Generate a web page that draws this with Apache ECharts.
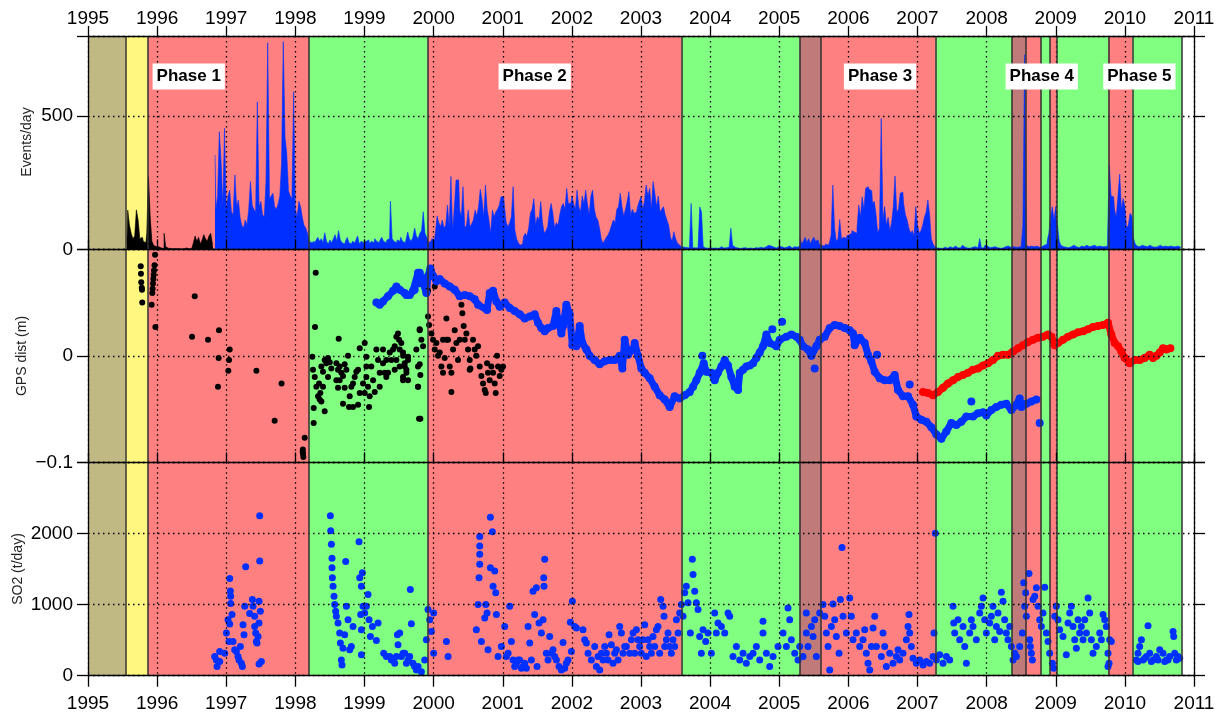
<!DOCTYPE html>
<html><head><meta charset="utf-8">
<script src="https://cdn.jsdelivr.net/npm/echarts@6.0.0/dist/echarts.min.js"></script>
<style>html,body{margin:0;padding:0;background:#fff}#c{width:1224px;height:715px}</style>
</head><body><div id="c"></div>
<script>
// ---------- band (phase) definitions ----------
const bandEdges = [1995.0, 1995.545, 1995.868, 1998.197, 1999.914, 2003.589, 2005.296, 2005.604, 2007.263, 2008.367, 2008.570, 2008.787, 2008.917, 2009.018, 2009.756, 2010.109, 2010.826];
const bandKinds = ['olive','yellow','red','green','red','green','brown','red','green','brown','red','green','red','green','red','green'];
const phaseNames = ['Phase 1','Phase 2','Phase 3','Phase 4','Phase 5'];
const phaseYears = [1996.457, 2001.462, 2006.458, 2008.797, 2010.21];
const phaseLevel = [648, 648, 648, 648, 648];

// ---------- events/day: 40 bins per year ----------
const blueStart = 1996.82;
const evYears = [1995,1996,1997,1998,1999,2000,2001,2002,2003,2004,2005,2006,2007,2008,2009,2010];
const ev1995 = [null,null,null,null,null,null,null,null,null,null,null,null,null,null,null,null,null,null,null,null,null,null,20,147,90,60,40,50,148,110,40,45,30,25,60,272,120,30,15,10];
const ev1996 = [10,8,5,3,60,10,4,3,2,2,3,2,2,2,3,2,5,2,2,3,10,25,50,30,45,20,35,55,40,30,50,60,20,354,150,200,441,330,160,454];
const ev1997 = [150,200,222,140,130,279,160,185,120,90,80,110,90,150,254,165,150,140,553,160,180,130,120,254,775,190,200,210,160,150,170,200,322,779,420,360,220,200,190,591];
const ev1998 = [150,120,180,160,120,90,80,60,30,25,30,20,35,45,30,40,25,62,30,20,35,25,40,55,30,70,35,25,20,30,45,25,20,30,25,35,50,20,30,25];
const ev1999 = [30,25,35,20,30,25,40,30,25,35,45,30,25,35,40,181,40,30,25,35,30,45,30,25,35,65,40,30,45,80,50,40,60,70,141,60,45,25,30,40];
const ev2000 = [35,60,125,100,85,110,80,90,166,85,273,70,160,260,260,150,120,235,80,90,147,85,95,110,147,125,160,225,185,122,241,150,110,60,147,122,140,150,165,197];
const ev2001 = [197,160,100,85,100,122,235,72,40,25,15,20,47,60,50,80,135,150,190,90,122,110,179,100,60,70,85,140,172,135,80,100,90,130,160,172,150,228,170,175];
const ev2002 = [200,170,150,222,160,140,200,170,222,170,130,200,222,150,120,110,80,40,22,35,45,55,70,91,110,100,150,160,210,160,125,150,180,216,130,150,135,140,160,179];
const ev2003 = [197,150,180,241,200,228,150,254,210,160,200,140,150,160,130,110,90,47,30,66,40,25,17,10,8,6,7,5,6,172,5,6,5,4,159,140,10,5,4,6];
const ev2004 = [5,4,8,5,3,6,10,5,4,6,8,5,79,15,8,5,4,3,5,4,6,3,4,5,3,4,6,5,4,8,5,6,10,15,20,12,8,6,5,10];
const ev2005 = [8,10,6,5,8,12,6,5,10,15,8,12,40,20,30,45,25,40,20,35,45,30,35,20,15,12,15,20,15,25,52,241,80,30,40,112,40,45,40,50];
const ev2006 = [55,60,70,65,60,80,166,122,197,150,229,235,225,220,172,180,130,60,80,491,110,160,90,120,70,100,160,275,140,150,210,215,170,130,110,80,60,70,50,160];
const ev2007 = [90,60,70,90,120,140,185,130,40,20,10,5,4,6,3,8,5,4,10,6,5,12,8,5,6,10,15,8,5,6,4,8,5,10,6,12,40,5,6,15];
const ev2008 = [12,6,5,8,10,5,6,4,8,5,10,6,12,8,15,10,8,6,8,10,6,91,730,15,10,12,8,10,12,10,8,10,12,15,20,30,60,120,160,110];
const ev2009 = [160,90,30,15,10,8,12,6,10,8,15,10,8,6,12,8,10,15,8,10,12,8,15,10,8,12,10,8,10,12,50,316,200,197,150,120,200,282,150,190];
const ev2010 = [160,80,90,135,125,40,20,12,10,15,8,12,10,8,15,10,12,8,10,12,15,10,8,12,10,8,12,10,8,10,12,8,6];
const evArrays = [ev1995,ev1996,ev1997,ev1998,ev1999,ev2000,ev2001,ev2002,ev2003,ev2004,ev2005,ev2006,ev2007,ev2008,ev2009,ev2010];

// ---------- GPS distance (m) ----------
const gpsBlack = [
[1995.763,0.084],[1995.766,0.077],[1995.770,0.069],[1995.778,0.064],[1995.781,0.062],[1995.785,0.050],
[1995.970,0.095],[1995.962,0.085],[1995.955,0.080],[1995.950,0.076],[1995.945,0.072],[1995.940,0.068],[1995.935,0.063],[1995.930,0.059],[1995.920,0.048],[1995.975,0.027],
[1996.544,0.056],[1996.505,0.018],[1996.736,0.015],[1996.895,0.024],[1996.890,-0.002],[1996.880,-0.029],[1997.050,0.006],[1997.040,-0.004],[1997.030,-0.014],[1997.436,-0.014],[1997.800,-0.026],[1997.700,-0.061],[1998.135,-0.077],[1998.105,-0.090],[1998.110,-0.092],[1998.115,-0.095],[1998.108,-0.088],
[1998.246,-0.001],[1998.255,-0.013],[1998.280,-0.020],[1998.304,-0.029],[1998.328,-0.038],[1998.352,-0.041],[1998.342,-0.026],[1998.361,-0.035],[1998.265,-0.049],[1998.424,-0.004],[1998.448,-0.007],[1998.497,-0.006],[1998.400,-0.029],[1998.376,-0.043],[1998.424,-0.052],[1998.593,-0.007],[1998.617,-0.013],[1998.641,-0.010],[1998.665,-0.016],[1998.689,-0.019],[1998.593,-0.023],[1998.617,-0.030],[1998.641,-0.023],[1998.762,0.000],[1998.738,-0.013],[1998.689,-0.045],[1998.786,-0.038],[1998.810,-0.029],[1998.834,-0.026],[1998.858,-0.020],[1998.882,-0.015],[1998.907,-0.013],[1998.776,-0.048],[1998.834,-0.048],[1998.907,-0.046],[1998.931,-0.035],[1998.931,0.007],[1999.003,0.012],[1999.027,-0.001],[1999.027,-0.010],[1999.027,-0.020],[1999.051,-0.029],[1999.075,-0.038],[1999.066,-0.048],[1999.003,-0.035],[1998.979,-0.026],[1999.099,-0.010],[1999.124,-0.023],[1999.172,0.006],[1999.196,-0.004],[1999.220,-0.016],[1999.220,-0.029],[1999.268,0.006],[1999.268,-0.007],[1999.292,-0.016],[1999.148,-0.034],[1999.316,-0.004],[1999.316,-0.020],[1999.365,0.003],[1999.389,-0.004],[1999.413,0.006],[1999.437,0.009],[1999.461,0.018],[1999.485,0.021],[1999.500,0.015],[1999.509,0.006],[1999.461,-0.004],[1999.437,-0.013],[1999.509,-0.010],[1999.341,-0.016],[1999.557,0.003],[1999.581,-0.007],[1999.606,-0.013],[1999.630,-0.001],[1999.630,-0.023],[1999.557,-0.020],[1999.750,0.006],[1999.774,-0.010],[1999.774,-0.029],[1999.789,-0.059],[1999.798,0.025],
[1998.294,0.078],[1998.284,0.027],[1998.627,0.016],[1998.265,-0.063],[1998.376,-0.010],[1998.400,-0.015],[1998.472,-0.002],[1998.472,-0.020],[1998.520,-0.012],[1998.713,-0.030],[1998.713,-0.008],
[1999.533,0.012],[1999.558,0.000],[1999.582,-0.010],[1999.606,-0.016],[1999.558,-0.023],[1999.630,-0.004],[1999.799,0.024],[1999.823,0.015],[1999.847,0.009],[1999.799,-0.008],[1999.808,-0.018],[1999.775,-0.029],[1999.808,-0.059],[1999.919,0.037],[1999.934,0.029],[1999.919,0.061],[2000.016,0.065],[1999.967,0.021],[1999.992,0.015],[2000.016,0.006],[2000.040,0.012],[2000.064,0.000],[2000.088,0.003],[2000.112,-0.010],[2000.136,-0.016],[2000.160,-0.002],[2000.185,0.035],[2000.209,0.015],[2000.233,-0.010],[2000.257,-0.016],[2000.257,-0.034],[2000.281,0.006],[2000.305,0.024],[2000.329,0.012],[2000.353,-0.004],[2000.377,0.015],[2000.402,0.048],[2000.416,0.040],[2000.435,0.028],[2000.450,0.015],[2000.474,0.021],[2000.498,0.006],[2000.522,-0.004],[2000.532,-0.012],[2000.570,0.015],[2000.594,0.006],[2000.618,0.000],[2000.643,0.009],[2000.667,-0.010],[2000.691,-0.019],[2000.715,-0.026],[2000.739,-0.032],[2000.754,-0.035],[2000.773,-0.007],[2000.787,-0.016],[2000.811,-0.023],[2000.835,-0.010],[2000.860,-0.016],[2000.884,-0.026],[2000.898,-0.035],[2000.917,0.000],[2000.932,-0.010],[2000.956,-0.019],[2000.980,-0.013],[2001.004,-0.010],[2000.522,-0.013],[2000.185,0.015],[2000.136,0.015]
];
// continuous blue track
const gpsBlue = [
[1999.172,0.050],[1999.220,0.048],[1999.268,0.051],[1999.340,0.056],[1999.413,0.061],[1999.461,0.065],[1999.509,0.062],[1999.581,0.059],[1999.606,0.057],[1999.654,0.057],[1999.702,0.061],[1999.726,0.062],[1999.774,0.078],[1999.775,0.068],[1999.799,0.078],[1999.847,0.068],[1999.895,0.059],[1999.919,0.075],[1999.953,0.082],[1999.992,0.075],[2000.040,0.070],[2000.088,0.072],[2000.160,0.068],[2000.233,0.065],[2000.305,0.062],[2000.377,0.056],[2000.450,0.057],[2000.522,0.056],[2000.594,0.053],[2000.643,0.048],[2000.773,0.043],[2000.811,0.059],[2000.860,0.061],[2000.908,0.051],[2000.956,0.046],[2001.028,0.050],[2001.101,0.045],[2001.173,0.042],[2001.245,0.039],[2001.318,0.035],[2001.390,0.037],[2001.462,0.039],[2001.510,0.031],[2001.559,0.026],[2001.607,0.023],[2001.655,0.026],[2001.727,0.028],[2001.776,0.042],[2001.800,0.034],[2001.848,0.021],[2001.872,0.028],[2001.920,0.048],[2001.968,0.039],[2002.007,0.010],[2002.065,0.009],[2002.113,0.028],[2002.152,0.012],[2002.210,0.006],[2002.258,0.000],[2002.330,-0.004],[2002.403,-0.008],[2002.475,-0.005],[2002.547,-0.004],[2002.620,-0.004],[2002.692,0.000],[2002.731,-0.012],[2002.764,0.015],[2002.813,0.001],[2002.885,0.006],[2002.909,0.012],[2002.957,0.000],[2003.005,-0.012],[2003.053,-0.016],[2003.126,-0.021],[2003.198,-0.029],[2003.270,-0.037],[2003.343,-0.041],[2003.415,-0.048],[2003.487,-0.038],[2003.560,-0.040],[2003.632,-0.037],[2003.705,-0.034],[2003.753,-0.029],[2003.801,-0.023],[2003.849,-0.016],[2003.907,-0.007],[2003.946,-0.015],[2004.018,-0.016],[2004.066,-0.023],[2004.114,-0.016],[2004.163,-0.010],[2004.211,-0.004],[2004.259,-0.009],[2004.307,-0.020],[2004.356,-0.029],[2004.404,-0.032],[2004.428,-0.016],[2004.476,-0.013],[2004.524,-0.010],[2004.573,-0.009],[2004.621,-0.007],[2004.669,-0.002],[2004.717,0.003],[2004.765,0.009],[2004.814,0.020],[2004.862,0.012],[2004.958,0.009],[2005.007,0.015],[2005.103,0.018],[2005.176,0.020],[2005.248,0.018],
[2005.296,0.015],[2005.344,0.009],[2005.416,0.006],[2005.465,0.000],[2005.537,0.009],[2005.585,0.015],[2005.657,0.018],[2005.730,0.026],[2005.802,0.029],[2005.874,0.028],[2005.947,0.026],[2006.019,0.024],[2006.067,0.021],[2006.091,0.010],[2006.164,0.017],[2006.236,0.012],[2006.284,0.001],[2006.332,-0.005],[2006.381,-0.015],[2006.453,-0.021],[2006.525,-0.023],[2006.598,-0.023],[2006.670,-0.018],[2006.718,-0.032],[2006.790,-0.038],[2006.863,-0.038],[2006.935,-0.046],[2006.983,-0.057],[2007.056,-0.060],[2007.128,-0.062],[2007.200,-0.067],[2007.273,-0.074],[2007.345,-0.078],[2007.417,-0.071],[2007.490,-0.063],[2007.562,-0.065],[2007.634,-0.062],[2007.707,-0.057],[2007.803,-0.057],[2007.875,-0.054],[2007.948,-0.053],[2007.996,-0.056],[2008.068,-0.051],[2008.141,-0.048],[2008.213,-0.046],[2008.285,-0.045],[2008.358,-0.051],[2008.430,-0.046],[2008.478,-0.040],[2008.503,-0.048],[2008.575,-0.045],[2008.647,-0.043],[2008.720,-0.041]
];
// isolated blue GPS points off the track
const gpsBlueOut = [[2003.888,0.000],[2004.900,0.025],[2005.041,0.032],[2005.513,-0.012],[2006.415,0.001],[2006.887,-0.027],[2007.779,-0.043],[2008.768,-0.063]];
const gpsRed = [
[2007.080,-0.034],[2007.152,-0.035],[2007.225,-0.037],[2007.297,-0.034],[2007.369,-0.030],[2007.441,-0.026],[2007.514,-0.023],[2007.586,-0.020],[2007.658,-0.018],[2007.731,-0.016],[2007.803,-0.013],[2007.875,-0.012],[2007.948,-0.009],[2008.020,-0.007],[2008.092,-0.004],[2008.165,0.000],[2008.237,0.001],[2008.310,0.001],[2008.382,0.004],[2008.454,0.007],[2008.527,0.010],[2008.599,0.013],[2008.671,0.015],[2008.744,0.017],[2008.816,0.018],[2008.888,0.020],[2008.937,0.018],[2008.985,0.010],[2009.033,0.012],[2009.105,0.015],[2009.178,0.018],[2009.250,0.020],[2009.322,0.022],[2009.395,0.023],[2009.467,0.025],[2009.539,0.027],[2009.611,0.028],[2009.684,0.029],[2009.756,0.031],[2009.804,0.020],[2009.853,0.012],[2009.901,0.009],[2009.949,0.004],[2009.997,-0.002],[2010.070,-0.007],[2010.142,-0.004],[2010.215,-0.004],[2010.287,-0.002],[2010.359,0.001],[2010.407,-0.002],[2010.456,0.000],[2010.504,0.003],[2010.552,0.007],[2010.600,0.006],[2010.658,0.007]
];

// ---------- SO2 (t/day) ----------
const so2 = [
[1996.833,269],[1996.857,222],[1996.867,128],[1996.905,340],[1996.905,198],[1996.978,316],[1997.002,599],[1997.026,788],[1997.040,481],[1997.050,1368],[1997.059,1189],[1997.064,1118],[1997.064,1014],[1997.083,859],[1997.050,727],[1997.098,481],[1997.122,364],[1997.146,340],[1997.170,269],[1997.185,222],[1997.204,411],[1997.219,175],[1997.233,128],[1997.243,717],[1997.257,576],[1997.267,976],[1997.281,1533],[1997.339,873],[1997.378,1071],[1997.387,976],[1997.411,835],[1997.411,693],[1997.426,599],[1997.436,481],[1997.445,458],[1997.460,552],[1997.474,741],[1997.474,1047],[1997.484,2249],[1997.484,1613],[1997.493,906],[1997.474,165],[1997.508,198],
[1998.506,2249],[1998.511,2037],[1998.521,1849],[1998.530,1651],[1998.530,1519],[1998.535,1377],[1998.545,1259],[1998.559,1118],[1998.569,1000],[1998.583,906],[1998.593,835],[1998.617,741],[1998.641,599],[1998.651,458],[1998.665,222],[1998.675,151],[1998.689,387],[1998.713,576],[1998.728,1604],[1998.738,976],[1998.762,788],[1998.786,364],[1998.810,411],[1998.834,693],[1998.921,1882],[1998.931,1377],[1998.955,1259],[1998.969,1448],[1998.945,859],[1998.955,646],[1998.955,293],[1998.979,976],[1999.003,882],[1999.027,976],[1999.051,1141],[1999.066,788],[1999.085,552],[1999.114,693],[1999.172,495],[1999.196,741],[1999.278,316],[1999.316,269],[1999.365,269],[1999.389,222],[1999.413,222],[1999.437,175],[1999.461,269],[1999.476,576],[1999.485,434],[1999.509,599],[1999.534,269],[1999.558,316],[1999.582,316],[1999.606,175],[1999.630,222],[1999.654,269],[1999.663,1212],[1999.678,731],[1999.702,175],[1999.726,128],[1999.751,80],[1999.775,128],[1999.823,57],[1999.871,222],[1999.895,505],[1999.919,929],[1999.943,788],[1999.967,623],[2000.000,882],[2000.000,316],
[2000.185,481],[2000.209,269],[2000.618,646],[2000.643,1000],[2000.657,1377],[2000.667,1707],[2000.667,1957],[2000.667,1825],[2000.667,1566],[2000.691,481],[2000.739,811],[2000.754,1000],[2000.773,882],[2000.787,364],[2000.821,2226],[2000.850,2023],[2000.821,1519],[2000.860,1259],[2000.884,1471],[2000.898,1165],[2000.908,859],[2000.932,269],[2000.980,411],[2001.028,693],[2001.052,269],[2001.077,316],[2001.101,976],[2001.125,481],[2001.149,222],[2001.173,128],[2001.197,175],[2001.221,222],[2001.245,222],[2001.270,104],[2001.294,128],[2001.318,175],[2001.342,104],[2001.366,693],[2001.390,458],[2001.414,222],[2001.438,1188],[2001.462,859],[2001.486,1235],[2001.496,128],[2001.525,741],[2001.559,599],[2001.583,788],[2001.593,1377],[2001.607,1636],[2001.597,1259],[2001.631,316],[2001.655,222],[2001.679,552],[2001.703,316],[2001.727,364],[2001.751,269],[2001.776,222],[2001.814,128],[2001.848,80],[2001.872,467],[2001.896,104],[2001.920,175],[2001.944,222],[2001.978,750],[2002.007,1047],[2001.993,340],[2002.041,693],[2002.065,670],[2002.161,646],[2002.185,505],[2002.210,458],[2002.234,316],[2002.282,222],[2002.330,411],[2002.354,128],[2002.379,269],[2002.403,80],[2002.427,316],[2002.451,222],[2002.475,411],[2002.499,316],[2002.523,222],[2002.538,576],[2002.571,434],[2002.595,175],[2002.620,316],[2002.644,364],[2002.668,222],[2002.692,693],[2002.716,599],[2002.740,316],[2002.764,411],[2002.788,411],[2002.837,316],[2002.861,505],[2002.885,599],[2002.909,316],[2002.933,646],[2002.957,505],[2002.981,411],[2003.005,316],[2003.029,505],[2003.053,717],[2003.077,269],[2003.102,505],[2003.126,411],[2003.150,316],[2003.174,552],[2003.198,411],[2003.222,646],[2003.246,693],[2003.270,316],[2003.285,1071],[2003.319,976],[2003.333,835],[2003.343,411],[2003.367,505],[2003.391,599],[2003.415,411],[2003.439,316],[2003.463,505],[2003.487,411],[2003.512,788],[2003.536,599],[2003.560,882],[2003.584,1000],[2003.608,835],[2003.632,1165],[2003.656,1259],[2003.680,1024],[2003.714,599],[2003.743,1636],[2003.753,1424],[2003.777,1188],[2003.801,1024],[2003.825,929],[2003.849,552],[2003.873,316],[2003.897,646],[2003.936,481],[2003.970,599],[2004.018,316],[2004.066,882],[2004.090,599],[2004.114,741],[2004.163,693],[2004.211,599],[2004.259,882],[2004.283,835],[2004.331,269],[2004.380,411],[2004.428,222],[2004.476,316],[2004.524,175],[2004.573,269],[2004.621,316],[2004.669,411],[2004.717,222],[2004.765,764],[2004.765,599],[2004.814,316],[2004.862,128],[2004.910,269],[2004.982,411],[2005.055,599],[2005.103,411],[2005.127,953],[2005.151,788],[2005.175,505],[2005.224,316],[2005.272,222],
[2005.296,411],[2005.344,269],[2005.392,599],[2005.416,411],[2005.392,882],[2005.465,693],[2005.489,552],[2005.537,269],[2005.513,788],[2005.585,882],[2005.633,1000],[2005.658,835],[2005.682,599],[2005.706,411],[2005.730,80],[2005.754,693],[2005.778,1009],[2005.802,788],[2005.826,552],[2005.865,316],[2005.884,1071],[2005.908,1801],[2005.923,835],[2005.971,599],[2006.019,1094],[2006.043,835],[2006.067,505],[2006.115,599],[2006.164,411],[2006.212,505],[2006.236,646],[2006.260,316],[2006.284,175],[2006.309,80],[2006.332,411],[2006.357,670],[2006.381,835],[2006.405,411],[2006.477,269],[2006.501,599],[2006.525,411],[2006.549,128],[2006.598,316],[2006.646,175],[2006.694,269],[2006.718,364],[2006.742,222],[2006.790,316],[2006.839,505],[2006.863,693],[2006.877,859],[2006.887,599],[2006.911,411],[2006.935,245],[2006.983,175],[2007.032,222],[2007.080,151],[2007.128,198],[2007.176,175],[2007.225,269],[2007.239,599],[2007.258,2004],[2007.273,222],[2007.321,293],[2007.369,175],[2007.418,269],[2007.466,222],[2007.514,976],[2007.524,741],[2007.538,599],[2007.586,788],[2007.610,505],[2007.659,693],[2007.683,411],[2007.707,175],[2007.755,599],[2007.779,788],[2007.803,693],[2007.851,505],[2007.900,882],[2007.924,976],[2007.948,1094],[2007.972,788],[2007.996,599],[2008.044,741],[2008.068,835],[2008.092,976],[2008.117,505],[2008.141,693],[2008.165,882],[2008.189,623],[2008.213,1174],[2008.237,1047],[2008.261,788],[2008.285,599],[2008.309,505],[2008.334,693],[2008.358,411],[2008.382,222],[2008.406,316],[2008.430,269],[2008.478,411],[2008.517,599],[2008.537,1306],[2008.551,976],[2008.565,1165],[2008.575,835],[2008.613,1438],[2008.623,505],[2008.633,411],[2008.647,316],[2008.662,222],[2008.671,1071],[2008.696,1118],[2008.720,1236],[2008.744,976],[2008.768,788],[2008.792,693],[2008.816,882],[2008.840,1245],[2008.864,599],[2008.888,481],[2008.912,316],[2008.951,175],[2008.970,104],[2008.985,835],[2009.009,976],[2009.033,788],[2009.057,646],[2009.105,552],[2009.153,293],[2009.178,741],[2009.202,882],[2009.226,976],[2009.250,693],[2009.274,505],[2009.298,387],[2009.322,788],[2009.346,599],[2009.370,693],[2009.395,505],[2009.419,788],[2009.443,599],[2009.467,1094],[2009.491,882],[2009.515,505],[2009.539,316],[2009.587,411],[2009.636,599],[2009.660,505],[2009.684,859],[2009.708,788],[2009.732,693],[2009.756,316],[2009.771,175],[2009.780,505],[2009.804,481],[2009.756,128],
[2010.166,222],[2010.190,316],[2010.214,411],[2010.239,505],[2010.263,222],[2010.311,269],[2010.335,703],[2010.359,316],[2010.407,222],[2010.456,269],[2010.504,364],[2010.552,316],[2010.600,222],[2010.648,269],[2010.697,623],[2010.706,552],[2010.721,316],[2010.745,222],[2010.793,245],[2010.190,198],[2010.287,245],[2010.383,198],[2010.480,222],[2010.576,198],[2010.624,222],[2010.769,269]
];

// ---------- build ----------
const FONT = 'Liberation Sans, Arial, Helvetica, sans-serif';
const BLUE = '#0030ff';
const bandColor = {olive:'#c1b983', yellow:'#fff780', red:'#ff8080', green:'#80ff80', brown:'#c07a7a'};

const evBlack = [], evBlue = [];
evYears.forEach((yr, k) => evArrays[k].forEach((v, i) => {
  if (v == null) return;
  const x = yr + (i + 0.5) / 40;
  (x < blueStart ? evBlack : evBlue).push([x, v]);
}));
const byX = (a, b) => a[0] - b[0];
const gpsBlueSorted = gpsBlue.slice().sort(byX);
const gpsRedSorted = gpsRed.slice().sort(byX);

const bandAreas = bandKinds.map((kind, i) => [
  {xAxis: bandEdges[i], itemStyle: {color: bandColor[kind], opacity: 1}},
  {xAxis: bandEdges[i + 1]}
]);
const bandLines = bandEdges.slice(1).map(e => ({xAxis: e}));

function bandSeries(xi, yi) {
  return {
    type: 'line', xAxisIndex: xi, yAxisIndex: yi, data: [], z: 1, silent: true,
    markArea: {silent: true, data: bandAreas},
    markLine: {silent: true, symbol: ['none', 'none'], label: {show: false},
      lineStyle: {color: '#303030', width: 1.5, type: 'solid', opacity: 1}, emphasis: {disabled: true},
      data: bandLines}
  };
}

const dotted = {show: true, lineStyle: {color: '#000', width: 1.3, type: [1.5, 3.5]}};
const lineStyleAx = {color: '#000', width: 1.3};
const xCommon = {type: 'value', min: 1995, max: 2011, interval: 1, z: 5,
  axisLine: {show: true, onZero: false, lineStyle: lineStyleAx}};

const xLabelTop = {show: true, fontSize: 19, color: '#000', fontFamily: FONT, margin: 8, formatter: v => String(v)};
const xLabelBot = {show: true, fontSize: 19, color: '#000', fontFamily: FONT, margin: 19, formatter: v => String(v)};

const xAxes = [
  Object.assign({}, xCommon, {gridIndex: 0, position: 'top',
    axisTick: {show: true, inside: false, length: 10, lineStyle: lineStyleAx},
    axisLabel: xLabelTop, splitLine: dotted}),
  Object.assign({}, xCommon, {gridIndex: 0, position: 'bottom',
    axisTick: {show: true, inside: true, length: 10, lineStyle: lineStyleAx},
    axisLabel: {show: false}, splitLine: {show: false}}),
  Object.assign({}, xCommon, {gridIndex: 1, position: 'bottom',
    axisTick: {show: true, inside: true, length: 10, lineStyle: lineStyleAx},
    axisLabel: {show: false}, splitLine: dotted}),
  Object.assign({}, xCommon, {gridIndex: 2, position: 'bottom',
    axisTick: {show: true, inside: false, length: 11, lineStyle: lineStyleAx},
    axisLabel: xLabelBot, splitLine: dotted})
];

function yAxisPair(gi, min, max, interval, fmt) {
  const base = {type: 'value', gridIndex: gi, min: min, max: max, interval: interval, z: 5,
    axisLine: {show: true, onZero: false, lineStyle: lineStyleAx},
    axisTick: {show: true, inside: false, length: 11, lineStyle: lineStyleAx}};
  return [
    Object.assign({}, base, {position: 'left',
      axisLabel: {show: true, fontSize: 19, color: '#000', fontFamily: FONT, margin: 15, formatter: fmt},
      splitLine: dotted}),
    Object.assign({}, base, {position: 'right', axisLabel: {show: false}, splitLine: {show: false}})
  ];
}
const fmtMinus = v => {
  if (Math.abs(v) < 1e-9) return '0';
  if (v > 0.05) return '';
  return '\u2212' + String(Math.abs(Math.round(v * 10) / 10));
};
const yAxes = [].concat(
  yAxisPair(0, 0, 800, 500, v => (v % 500 === 0 ? String(v) : '')),
  yAxisPair(1, -0.1, 0.1, 0.1, fmtMinus),
  yAxisPair(2, 0, 3000, 1000, v => (v < 2500 ? String(v) : ''))
);

const option = {
  animation: false,
  backgroundColor: '#fff',
  grid: [
    {left: 88, width: 1106, top: 36, height: 213.3},
    {left: 88, width: 1106, top: 249.3, height: 213},
    {left: 88, width: 1106, top: 462.3, height: 213.4}
  ],
  xAxis: xAxes,
  yAxis: yAxes,
  graphic: [
    {type: 'text', x: 27, y: 142, rotation: Math.PI / 2, z: 100,
      style: {text: 'Events/day', fontSize: 14, fontFamily: FONT, fill: '#222', align: 'center', verticalAlign: 'middle'}},
    {type: 'text', x: 22, y: 356, rotation: Math.PI / 2, z: 100,
      style: {text: 'GPS dist (m)', fontSize: 14, fontFamily: FONT, fill: '#222', align: 'center', verticalAlign: 'middle'}},
    {type: 'text', x: 18, y: 569, rotation: Math.PI / 2, z: 100,
      style: {text: 'SO2 (t/day)', fontSize: 14, fontFamily: FONT, fill: '#222', align: 'center', verticalAlign: 'middle'}}
  ],
  series: [
    bandSeries(0, 0), bandSeries(2, 2), bandSeries(3, 4),
    {type: 'line', name: 'evBlack', xAxisIndex: 0, yAxisIndex: 0, data: evBlack, step: 'middle', showSymbol: false, z: 3,
      lineStyle: {color: '#000', width: 0.6}, areaStyle: {color: '#000', opacity: 1}, itemStyle: {color: '#000'}, silent: true},
    {type: 'line', name: 'evBlue', xAxisIndex: 0, yAxisIndex: 0, data: evBlue, step: 'middle', showSymbol: false, z: 3,
      lineStyle: {color: BLUE, width: 0.6}, areaStyle: {color: BLUE, opacity: 1}, itemStyle: {color: BLUE}, silent: true},
    {type: 'scatter', name: 'gpsBlack', xAxisIndex: 2, yAxisIndex: 2, data: gpsBlack, symbolSize: 6, z: 3,
      itemStyle: {color: '#000', opacity: 1}, silent: true},
    {type: 'line', name: 'gpsBlueTrack', xAxisIndex: 2, yAxisIndex: 2, data: gpsBlueSorted, showSymbol: false, z: 3,
      lineStyle: {color: BLUE, width: 7, cap: 'round', join: 'round'}, itemStyle: {color: BLUE}, silent: true},
    {type: 'scatter', name: 'gpsBlue', xAxisIndex: 2, yAxisIndex: 2, data: gpsBlue.concat(gpsBlueOut), symbolSize: 8, z: 3,
      itemStyle: {color: BLUE, opacity: 1}, silent: true},
    {type: 'line', name: 'gpsRedTrack', xAxisIndex: 2, yAxisIndex: 2, data: gpsRedSorted, showSymbol: false, z: 3,
      lineStyle: {color: '#ff0000', width: 7, cap: 'round', join: 'round'}, itemStyle: {color: '#ff0000'}, silent: true},
    {type: 'scatter', name: 'gpsRed', xAxisIndex: 2, yAxisIndex: 2, data: gpsRed, symbolSize: 8, z: 3,
      itemStyle: {color: '#ff0000', opacity: 1}, silent: true},
    {type: 'scatter', name: 'so2', xAxisIndex: 3, yAxisIndex: 4, data: so2, symbolSize: 7, z: 3,
      itemStyle: {color: BLUE, opacity: 1}, silent: true},
    {type: 'scatter', name: 'phases', xAxisIndex: 0, yAxisIndex: 0, z: 10, symbolSize: 1, silent: true,
      itemStyle: {color: '#ffffff', opacity: 1},
      data: phaseNames.map((n, i) => ({name: n, value: [phaseYears[i], phaseLevel[i]]})),
      label: {show: true, position: 'inside', formatter: p => p.name, backgroundColor: '#ffffff', opacity: 1,
        padding: [5, 4, 4, 4], fontSize: 17, fontWeight: 'bold', color: '#000', fontFamily: FONT}}
  ]
};

const chart = echarts.init(document.getElementById('c'), null, {renderer: 'canvas'});
chart.setOption(option);
</script></body></html>
